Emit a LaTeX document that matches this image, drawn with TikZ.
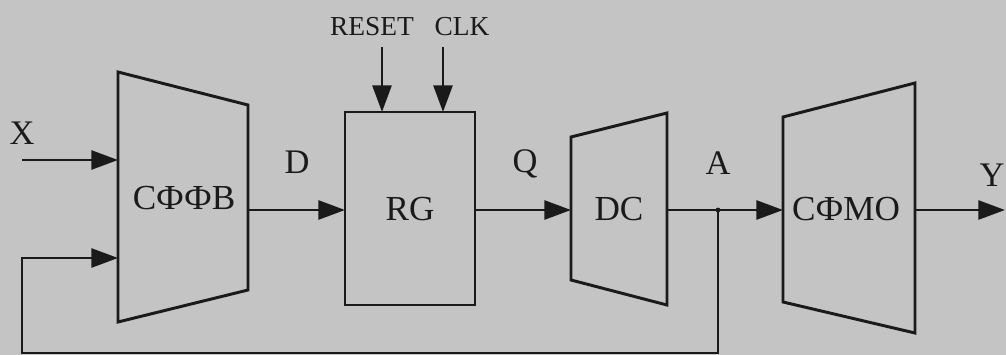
\documentclass[tikz,border=0pt]{standalone}
\usepackage{fontspec}
\setmainfont{Liberation Serif}
\usetikzlibrary{arrows.meta}
\definecolor{bg}{RGB}{196,196,196}
\definecolor{ink}{RGB}{26,26,26}
\begin{document}
\begin{tikzpicture}[x=0.025cm,y=-0.025cm,
  wire/.style={draw=ink,line width=2.1pt},
  blockline/.style={draw=ink,line width=2.1pt,line join=miter},
  arr/.style={wire,-{Triangle[length=19pt,width=13.5pt]}},
  lbl/.style={font=\fontsize{25}{30}\selectfont,text=ink,inner sep=0pt},
  sig/.style={font=\fontsize{24.5}{29}\selectfont,text=ink,inner sep=0pt},
  small/.style={font=\fontsize{19.5}{24}\selectfont,text=ink,inner sep=0pt}]
\fill[bg] (0,0) rectangle (1006,355);
\useasboundingbox (0,0) rectangle (1006,355);

% blocks
\draw[blockline] (118,72) -- (248,105) -- (248,290) -- (118,322) -- cycle;
\node[lbl] (sffv) at (184,198) {СФФВ};
\draw[blockline] (345,112) rectangle (475,305);
\node[lbl] (rg) at (410,209) {RG};
\draw[blockline] (571,137) -- (667,113) -- (667,305) -- (571,280) -- cycle;
\node[lbl] (dc) at (619,209) {DC};
\draw[blockline] (783,117) -- (915,83) -- (915,333) -- (783,302) -- cycle;
\node[lbl] (sfmo) at (846,209) {СФМО};

% ports
\coordinate (sffvA) at (118,160);
\coordinate (sffvB) at (118,258);
\coordinate (sffvO) at (248,210);
\coordinate (rgI) at (345,210);
\coordinate (rgO) at (475,210);
\coordinate (rgR) at (382,112);
\coordinate (rgC) at (443,112);
\coordinate (dcI) at (571,210);
\coordinate (dcO) at (667,210);
\coordinate (smI) at (783,210);
\coordinate (smO) at (915,210);
\coordinate (yEnd) at (1005,210);
\coordinate (xStart) at (22,160);
\coordinate (rStart) at (382,47);
\coordinate (cStart) at (443,47);
\coordinate (junc) at (718,210);
\coordinate (fb1) at (718,353);
\coordinate (fb2) at (22,353);
\coordinate (fb3) at (22,258);

% signal labels
\node[sig] (x) at (22,133) {X};
\node[sig] (d) at (297,162) {D};
\node[sig] (q) at (525,164) {Q};
\node[sig] (a) at (718,163) {A};
\node[sig] (y) at (992,175) {Y};
\node[small] (reset) at (372,27) {RESET};
\node[small] (clk) at (462,27) {CLK};

% connectors
\draw[arr] (xStart) -- (sffvA);
\draw[arr] (sffvO) -- (rgI);
\draw[arr] (rgO) -- (dcI);
\draw[arr] (dcO) -- (smI);
\draw[arr] (smO) -- (yEnd);
\draw[arr] (rStart) -- (rgR);
\draw[arr] (cStart) -- (rgC);
\draw[arr] (junc) -- (fb1) -- (fb2) -- (fb3) -- (sffvB);
\fill[ink] (junc) circle (2.4);
\end{tikzpicture}
\end{document}
